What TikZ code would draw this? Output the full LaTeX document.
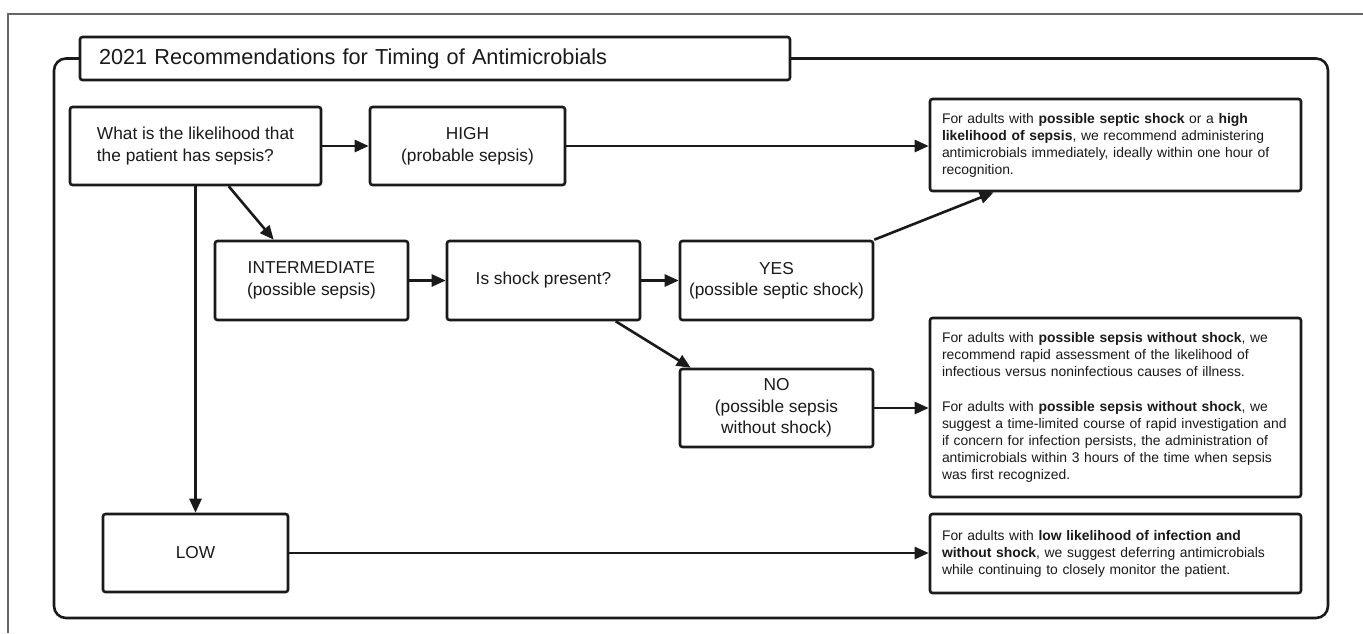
\documentclass[tikz,border=0pt]{standalone}
\usepackage{fontspec}
\setmainfont{Liberation Sans}
\usetikzlibrary{arrows.meta}
\definecolor{ink}{HTML}{1A1A1A}
\begin{document}
\begin{tikzpicture}[x=1pt,y=-1pt,
  box/.style={draw=ink, line width=2.6pt, rounded corners=2.5pt, fill=white, text=ink,
    align=center, inner sep=0pt, font=\fontsize{17.3}{21.5}\selectfont},
  recbox/.style={draw=ink, line width=2.6pt, rounded corners=2.5pt, fill=white, text=ink,
    align=left, text width=347pt, inner xsep=12pt, inner ysep=0pt, minimum width=371pt,
    font=\fontsize{13.9}{17}\selectfont},
  arr/.style={draw=ink, line width=2.6pt, -{Triangle[length=14pt,width=12pt]}},
  frame/.style={draw=ink, line width=2.6pt, rounded corners=12pt}
]
\useasboundingbox (0,0) rectangle (1363,633);
\fill[white] (0,0) rectangle (1363,633);
% outer grey frame
\draw[gray!80!black, line width=1.5pt] (1363,14) -- (8,14) -- (8,633);
% container
\draw[frame] (80,58.5) -- (54,58.5) -- (54,618) -- (1328,618) -- (1328,58.5) -- (790,58.5);
\node[draw=ink, line width=2.6pt, rounded corners=2.5pt, fill=white, text=ink, align=left,
  text width=672pt, inner xsep=19pt, inner ysep=0pt, minimum height=43pt,
  font=\fontsize{21.7}{26}\selectfont] (title) at (435,58.5)
  {2021 Recommendations for Timing of Antimicrobials};

\node[box, minimum width=251pt, minimum height=78pt, align=left] (q) at (195.5,146)
  {What is the likelihood that\\the patient has sepsis?};
\node[box, minimum width=195pt, minimum height=78pt] (high) at (467.5,146)
  {HIGH\\(probable sepsis)};
\node[recbox, minimum height=92pt] (rec1) at (1115.5,145)
  {For adults with \textbf{possible septic shock} or a \textbf{high}\\
   \textbf{likelihood of sepsis}, we recommend administering\\
   antimicrobials immediately, ideally within one hour of\\
   recognition.};
\node[box, minimum width=193pt, minimum height=79pt] (inter) at (311.5,280.5)
  {INTERMEDIATE\\(possible sepsis)};
\node[box, minimum width=193pt, minimum height=79pt] (shock) at (543.5,280.5)
  {Is shock present?};
\node[box, minimum width=193pt, minimum height=79pt] (yes) at (776.5,280.5)
  {YES\\(possible septic shock)};
\node[box, minimum width=193pt, minimum height=78pt] (no) at (776.5,408)
  {NO\\(possible sepsis\\without shock)};
\node[recbox, minimum height=179pt] (rec2) at (1115.5,407.5)
  {For adults with \textbf{possible sepsis without shock}, we\\
   recommend rapid assessment of the likelihood of\\
   infectious versus noninfectious causes of illness.\\[18pt]
   For adults with \textbf{possible sepsis without shock}, we\\
   suggest a time-limited course of rapid investigation and\\
   if concern for infection persists, the administration of\\
   antimicrobials within 3 hours of the time when sepsis\\
   was first recognized.};
\node[box, minimum width=185pt, minimum height=78pt] (low) at (195.5,553)
  {LOW};
\node[recbox, minimum height=79pt] (rec3) at (1115.5,553.5)
  {For adults with \textbf{low likelihood of infection and}\\
   \textbf{without shock}, we suggest deferring antimicrobials\\
   while continuing to closely monitor the patient.};

% connectors
\draw[arr] (q.east) -- (high.west);
\draw[arr] (high.east) -- (high.east -| rec1.west);
\draw[arr] ([xshift=160pt]q.south west) -- ([xshift=60pt]inter.north west);
\draw[arr] (q.south) -- (low.north);
\draw[arr] (inter.east) -- (shock.west);
\draw[arr] (shock.east) -- (yes.west);
\draw[arr] (yes.north east) -- ([xshift=65pt]rec1.south west);
\draw[arr] ([xshift=170pt]shock.south west) -- ([xshift=12pt]no.north west);
\draw[arr] (no.east) -- (no.east -| rec2.west);
\draw[arr] (low.east) -- (low.east -| rec3.west);
\end{tikzpicture}
\end{document}
